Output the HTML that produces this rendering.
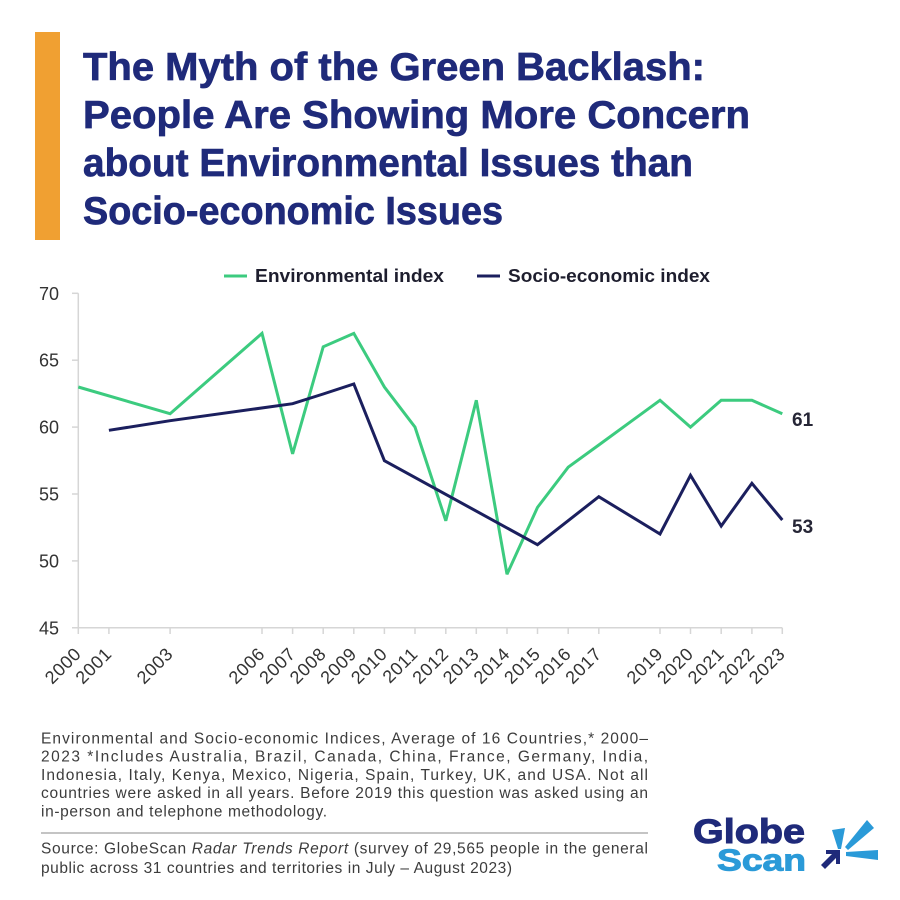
<!DOCTYPE html>
<html>
<head>
<meta charset="utf-8">
<style>
html,body{margin:0;padding:0;background:#fff;}
svg{display:block;}
text{font-family:"Liberation Sans",sans-serif;}
</style>
</head>
<body>
<svg width="900" height="900" viewBox="0 0 900 900" xmlns="http://www.w3.org/2000/svg">
<rect x="0" y="0" width="900" height="900" fill="#fff"/>
<!-- orange bar -->
<rect x="35" y="32" width="25" height="208" fill="#F0A032"/>
<!-- title -->
<g fill="#1F2A7A" stroke="#1F2A7A" stroke-width="0.7" font-weight="bold" font-size="38.5">
<text x="83" y="80" textLength="622" lengthAdjust="spacingAndGlyphs">The Myth of the Green Backlash:</text>
<text x="83" y="128" textLength="667" lengthAdjust="spacingAndGlyphs">People Are Showing More Concern</text>
<text x="83" y="176" textLength="610" lengthAdjust="spacingAndGlyphs">about Environmental Issues than</text>
<text x="83" y="224" textLength="420" lengthAdjust="spacingAndGlyphs">Socio-economic Issues</text>
</g>
<!-- legend -->
<line x1="224" y1="276" x2="247" y2="276" stroke="#3CCB7F" stroke-width="3"/>
<text x="255" y="282" font-size="18" font-weight="bold" fill="#1e1e2e" textLength="189" lengthAdjust="spacingAndGlyphs">Environmental index</text>
<line x1="477" y1="276" x2="500" y2="276" stroke="#1B1F5E" stroke-width="3"/>
<text x="508" y="282" font-size="18" font-weight="bold" fill="#1e1e2e" textLength="202" lengthAdjust="spacingAndGlyphs">Socio-economic index</text>
<!-- axes -->
<g stroke="#D6D6D6" stroke-width="1.5" fill="none">
<line x1="78.3" y1="293.3" x2="78.3" y2="627.8"/>
<line x1="72" y1="627.8" x2="782.3" y2="627.8"/>
<line x1="72" y1="293.3" x2="78.3" y2="293.3"/>
<line x1="72" y1="360.2" x2="78.3" y2="360.2"/>
<line x1="72" y1="427.1" x2="78.3" y2="427.1"/>
<line x1="72" y1="494.0" x2="78.3" y2="494.0"/>
<line x1="72" y1="560.9" x2="78.3" y2="560.9"/>
<line x1="78.3" y1="627.8" x2="78.3" y2="634"/>
<line x1="108.9" y1="627.8" x2="108.9" y2="634"/>
<line x1="170.1" y1="627.8" x2="170.1" y2="634"/>
<line x1="262.0" y1="627.8" x2="262.0" y2="634"/>
<line x1="292.6" y1="627.8" x2="292.6" y2="634"/>
<line x1="323.2" y1="627.8" x2="323.2" y2="634"/>
<line x1="353.8" y1="627.8" x2="353.8" y2="634"/>
<line x1="384.4" y1="627.8" x2="384.4" y2="634"/>
<line x1="415.0" y1="627.8" x2="415.0" y2="634"/>
<line x1="445.8" y1="627.8" x2="445.8" y2="634"/>
<line x1="476.3" y1="627.8" x2="476.3" y2="634"/>
<line x1="507.0" y1="627.8" x2="507.0" y2="634"/>
<line x1="537.5" y1="627.8" x2="537.5" y2="634"/>
<line x1="568.2" y1="627.8" x2="568.2" y2="634"/>
<line x1="598.8" y1="627.8" x2="598.8" y2="634"/>
<line x1="660.0" y1="627.8" x2="660.0" y2="634"/>
<line x1="690.5" y1="627.8" x2="690.5" y2="634"/>
<line x1="721.2" y1="627.8" x2="721.2" y2="634"/>
<line x1="751.9" y1="627.8" x2="751.9" y2="634"/>
<line x1="782.3" y1="627.8" x2="782.3" y2="634"/>
</g>
<!-- y labels -->
<g font-size="18" fill="#333" text-anchor="end">
<text x="59" y="299.8">70</text>
<text x="59" y="366.7">65</text>
<text x="59" y="433.6">60</text>
<text x="59" y="500.5">55</text>
<text x="59" y="567.4">50</text>
<text x="59" y="634.3">45</text>
</g>
<!-- x labels -->
<g font-size="18" fill="#333" text-anchor="end" letter-spacing="0.6">
<text transform="translate(82.3,655) rotate(-45)">2000</text>
<text transform="translate(112.9,655) rotate(-45)">2001</text>
<text transform="translate(174.1,655) rotate(-45)">2003</text>
<text transform="translate(266.0,655) rotate(-45)">2006</text>
<text transform="translate(296.6,655) rotate(-45)">2007</text>
<text transform="translate(327.2,655) rotate(-45)">2008</text>
<text transform="translate(357.8,655) rotate(-45)">2009</text>
<text transform="translate(388.4,655) rotate(-45)">2010</text>
<text transform="translate(419.0,655) rotate(-45)">2011</text>
<text transform="translate(449.8,655) rotate(-45)">2012</text>
<text transform="translate(480.3,655) rotate(-45)">2013</text>
<text transform="translate(511.0,655) rotate(-45)">2014</text>
<text transform="translate(541.5,655) rotate(-45)">2015</text>
<text transform="translate(572.2,655) rotate(-45)">2016</text>
<text transform="translate(602.8,655) rotate(-45)">2017</text>
<text transform="translate(664.0,655) rotate(-45)">2019</text>
<text transform="translate(694.5,655) rotate(-45)">2020</text>
<text transform="translate(725.2,655) rotate(-45)">2021</text>
<text transform="translate(755.9,655) rotate(-45)">2022</text>
<text transform="translate(786.3,655) rotate(-45)">2023</text>
</g>
<!-- series -->
<polyline fill="none" stroke="#3CCB7F" stroke-width="3" stroke-linejoin="miter" stroke-miterlimit="3"
points="78.3,387.0 170.1,413.7 262.0,333.4 292.6,453.9 323.2,346.8 353.8,333.4 384.4,387.0 415.0,427.1 445.8,520.8 476.3,400.3 507.0,574.3 537.5,507.4 568.2,467.2 598.8,445 660.0,400.3 690.5,427.1 721.2,400.3 751.9,400.3 782.3,413.7"/>
<polyline fill="none" stroke="#1B1F5E" stroke-width="3" stroke-linejoin="miter" stroke-miterlimit="3"
points="108.9,430.3 170.1,420.7 292.6,403.7 323.2,394 353.8,384 384.4,460.7 537.5,544.7 598.8,496.7 660.0,534 690.5,475.3 721.2,526 751.9,483.3 782.3,520"/>
<text x="792" y="426" font-size="19" font-weight="bold" fill="#262636">61</text>
<text x="792" y="533" font-size="19" font-weight="bold" fill="#262636">53</text>
<!-- footnote -->
<g font-size="15.5" fill="#3c3c3c">
<text x="41" y="743.3" textLength="607" lengthAdjust="spacing">Environmental and Socio-economic Indices, Average of 16 Countries,* 2000–</text>
<text x="41" y="761.6" textLength="607" lengthAdjust="spacing">2023 *Includes Australia, Brazil, Canada, China, France, Germany, India,</text>
<text x="41" y="779.9" textLength="607" lengthAdjust="spacing">Indonesia, Italy, Kenya, Mexico, Nigeria, Spain, Turkey, UK, and USA. Not all</text>
<text x="41" y="798.2" textLength="607" lengthAdjust="spacing">countries were asked in all years. Before 2019 this question was asked using an</text>
<text x="41" y="816.5" textLength="286" lengthAdjust="spacing">in-person and telephone methodology.</text>
</g>
<line x1="41" y1="833" x2="648" y2="833" stroke="#8a8a8a" stroke-width="1"/>
<g font-size="15.5" fill="#3c3c3c">
<text x="41" y="853.5" textLength="607" lengthAdjust="spacing">Source: GlobeScan <tspan font-style="italic">Radar Trends Report</tspan> (survey of 29,565 people in the general</text>
<text x="41" y="873" textLength="471" lengthAdjust="spacing">public across 31 countries and territories in July – August 2023)</text>
</g>
<!-- logo -->
<text x="693" y="843" font-size="34" font-weight="bold" fill="#1F2A7A" stroke="#1F2A7A" stroke-width="1" textLength="112" lengthAdjust="spacingAndGlyphs">Globe</text>
<text x="717" y="870.5" font-size="31" font-weight="bold" fill="#2A9AD8" stroke="#2A9AD8" stroke-width="1" textLength="89" lengthAdjust="spacingAndGlyphs">Scan</text>
<!-- icon -->
<polygon points="821,865 832,854 826,854 826,850 840,850 840,864 836,864 836,858 825,869" fill="#1F2A7A"/>
<polygon points="832,830 845,828 841,849 838,849" fill="#2A9AD8"/>
<polygon points="867,820 874,828 848,850 845,847" fill="#2A9AD8"/>
<polygon points="846,852 878,850 878,860 846,856" fill="#2A9AD8"/>
</svg>
</body>
</html>
